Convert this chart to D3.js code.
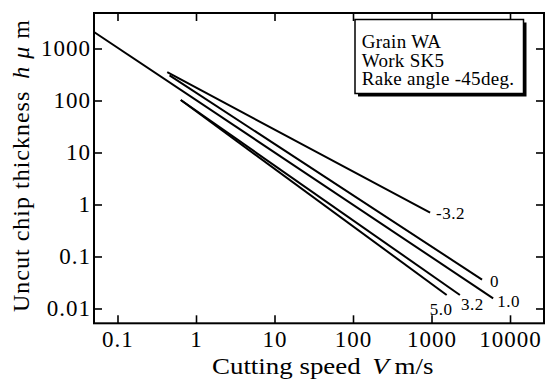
<!DOCTYPE html>
<html lang="en">
<head>
    <meta charset="UTF-8" />
    <title>Uncut chip thickness vs cutting speed</title>
    <script src="https://d3js.org/d3.v7.min.js"></script>
    <style>
        body { margin: 0; background: #fff; }
        text { font-family: "Liberation Serif", "Times New Roman", serif; fill: #000; }
    </style>
</head>
<body>
    <script>
        // tick values on both axes
        const speedTicks = [0.1, 1, 10, 100, 1000, 10000];
        const thickTicks = [0.01, 0.1, 1, 10, 100, 1000];

        // one straight line per rake angle (start and end points)
        const rakeLabels = ['-3.2', '0', '1.0', '3.2', '5.0'];
        const speedStart = [0.43, 0.46, 0.0502, 0.64, 0.64];
        const thickStart = [350, 305, 2080, 102, 102];
        const speedEnd = [960, 4400, 6100, 2300, 1560];
        const thickEnd = [0.70, 0.036, 0.0157, 0.0182, 0.0182];

        const legendLines = ['Grain WA', 'Work SK5', 'Rake angle -45deg.'];

        const width = 547;
        const height = 381;
        const plotL = 94, plotR = 544, plotT = 13, plotB = 323.3;

        const svg = d3.select('body').append('svg').attr('width', width).attr('height', height);

        const x = d3.scaleLog().domain([0.0502, 27100]).range([plotL, plotR]);
        const y = d3.scaleLog().domain([0.00519, 4816]).range([plotB, plotT]);

        const fmt = d3.format('~g');

        // axes, ticks pointing inward
        function styleAxis(g) {
            g.select('.domain').remove();
            g.selectAll('line').attr('stroke', '#000').attr('stroke-width', 1.6);
            g.selectAll('text')
                .attr('font-family', '"Liberation Serif", serif')
                .attr('font-size', 23)
                .attr('letter-spacing', 1)
                .attr('fill', '#000');
        }

        svg.append('g')
            .attr('transform', `translate(0,${plotB})`)
            .call(d3.axisBottom(x).tickValues(speedTicks).tickFormat(fmt).tickSizeInner(-8).tickSizeOuter(0).tickPadding(3))
            .call(styleAxis)
            .selectAll('text').attr('dy', '0.9em');

        svg.append('g')
            .attr('transform', `translate(0,${plotT})`)
            .call(d3.axisTop(x).tickValues(speedTicks).tickFormat('').tickSizeInner(-8).tickSizeOuter(0))
            .call(styleAxis);

        svg.append('g')
            .attr('transform', `translate(${plotL},0)`)
            .call(d3.axisLeft(y).tickValues(thickTicks).tickFormat(fmt).tickSizeInner(-8).tickSizeOuter(0).tickPadding(3))
            .call(styleAxis)
            .selectAll('text').attr('dy', '0.32em');

        svg.append('g')
            .attr('transform', `translate(${plotR},0)`)
            .call(d3.axisRight(y).tickValues(thickTicks).tickFormat('').tickSizeInner(-8).tickSizeOuter(0))
            .call(styleAxis);

        // frame
        svg.append('rect')
            .attr('x', plotL).attr('y', plotT)
            .attr('width', plotR - plotL).attr('height', plotB - plotT)
            .attr('fill', 'none').attr('stroke', '#000').attr('stroke-width', 2);

        // data lines
        const lines = rakeLabels.map((label, i) => ({
            label,
            p0: [speedStart[i], thickStart[i]],
            p1: [speedEnd[i], thickEnd[i]]
        }));

        svg.append('g').selectAll('line')
            .data(lines)
            .enter()
            .append('line')
            .attr('x1', (d) => x(d.p0[0]))
            .attr('y1', (d) => y(d.p0[1]))
            .attr('x2', (d) => x(d.p1[0]))
            .attr('y2', (d) => y(d.p1[1]))
            .attr('stroke', '#000')
            .attr('stroke-width', 2);

        // end labels, offset from line ends
        const labelOffset = { '-3.2': [6, 6], '0': [8, 7], '1.0': [4, 9], '3.2': [1, 15.5], '5.0': [-17, 20] };
        svg.append('g').selectAll('text')
            .data(lines)
            .enter()
            .append('text')
            .attr('x', (d) => x(d.p1[0]) + labelOffset[d.label][0])
            .attr('y', (d) => y(d.p1[1]) + labelOffset[d.label][1])
            .attr('font-size', 17)
            .attr('letter-spacing', 0.5)
            .text((d) => d.label);

        // axis titles
        const xt = svg.append('text')
            .attr('transform', 'translate(212,374) scale(1.17,1)')
            .attr('font-size', 23);
        xt.append('tspan').text('Cutting speed');
        xt.append('tspan').attr('dx', 10).attr('font-style', 'italic').text('V');
        xt.append('tspan').attr('dx', 5).text('m/s');

        const yt = svg.append('text')
            .attr('transform', 'translate(28.5,312) rotate(-90)')
            .attr('font-size', 24)
            .attr('letter-spacing', 1);
        yt.append('tspan').text('Uncut chip thickness');
        yt.append('tspan').attr('dx', 12).attr('font-style', 'italic').text('h');
        yt.append('tspan').attr('dx', 7).attr('font-style', 'italic').text('μ');
        yt.append('tspan').attr('dx', 7).text('m');

        // legend box with shadow
        const box = { x: 355, y: 19.5, w: 168.5, h: 74 };
        svg.append('rect')
            .attr('x', box.x + 3).attr('y', box.y + 3)
            .attr('width', box.w).attr('height', box.h)
            .attr('fill', '#000');
        svg.append('rect')
            .attr('x', box.x).attr('y', box.y)
            .attr('width', box.w).attr('height', box.h)
            .attr('fill', '#fff').attr('stroke', '#000').attr('stroke-width', 1.5);

        svg.append('g').selectAll('text')
            .data(legendLines)
            .enter()
            .append('text')
            .attr('x', 361.7)
            .attr('y', (d, i) => 48 + i * 18.5)
            .attr('font-size', 19)
            .attr('letter-spacing', 0.3)
            .text((d) => d);
    </script>
</body>
</html>
